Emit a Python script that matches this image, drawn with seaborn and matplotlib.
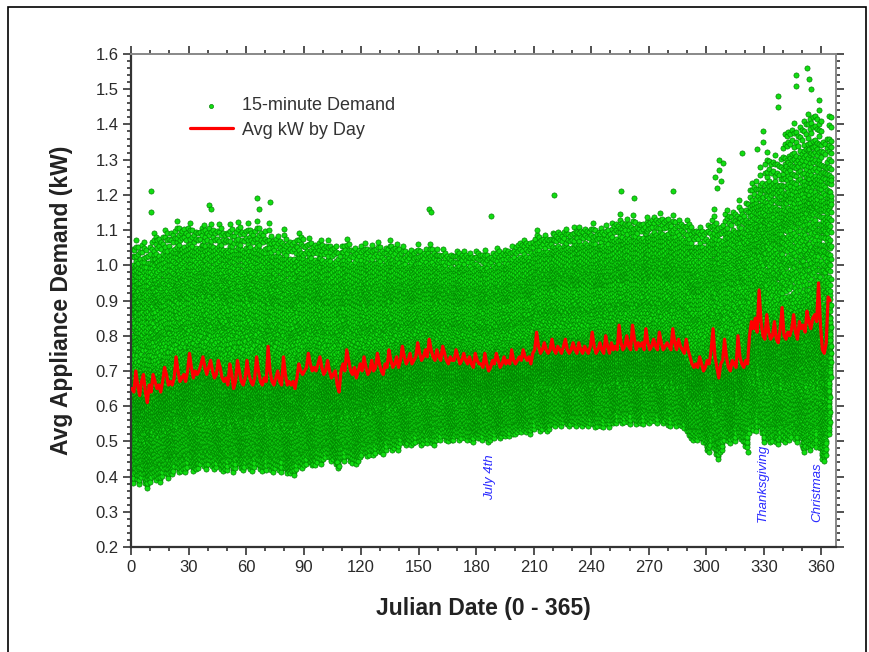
import numpy as np
import pandas as pd
import matplotlib
matplotlib.use("Agg")
import matplotlib.pyplot as plt
import seaborn as sns
from matplotlib.patches import Rectangle
from matplotlib.ticker import MultipleLocator, FormatStrFormatter

# Avg kW by day (day 0 .. 364), one week per row
avg_kw_by_day = [
    0.65, 0.64, 0.70, 0.66, 0.63, 0.67, 0.69,
    0.64, 0.61, 0.66, 0.64, 0.69, 0.67, 0.65,
    0.66, 0.64, 0.67, 0.71, 0.69, 0.66, 0.67,
    0.66, 0.68, 0.74, 0.70, 0.67, 0.68, 0.69,
    0.67, 0.70, 0.75, 0.71, 0.68, 0.70, 0.69,
    0.70, 0.72, 0.74, 0.71, 0.69, 0.71, 0.73,
    0.70, 0.68, 0.69, 0.73, 0.71, 0.68, 0.67,
    0.68, 0.66, 0.72, 0.69, 0.65, 0.67, 0.73,
    0.70, 0.67, 0.66, 0.68, 0.73, 0.69, 0.67,
    0.66, 0.68, 0.74, 0.70, 0.67, 0.66, 0.68,
    0.67, 0.77, 0.70, 0.67, 0.66, 0.68, 0.70,
    0.67, 0.66, 0.74, 0.69, 0.66, 0.67, 0.66,
    0.67, 0.65, 0.68, 0.72, 0.70, 0.69, 0.70,
    0.71, 0.75, 0.72, 0.70, 0.71, 0.70, 0.72,
    0.74, 0.71, 0.69, 0.70, 0.73, 0.70, 0.68,
    0.69, 0.70, 0.66, 0.64, 0.70, 0.72, 0.70,
    0.76, 0.73, 0.70, 0.69, 0.71, 0.68, 0.70,
    0.72, 0.70, 0.74, 0.71, 0.69, 0.70, 0.73,
    0.70, 0.71, 0.75, 0.72, 0.70, 0.69, 0.72,
    0.71, 0.76, 0.73, 0.71, 0.72, 0.74, 0.71,
    0.73, 0.77, 0.74, 0.72, 0.73, 0.75, 0.72,
    0.73, 0.74, 0.78, 0.75, 0.73, 0.74, 0.76,
    0.74, 0.79, 0.76, 0.74, 0.73, 0.76, 0.74,
    0.73, 0.77, 0.75, 0.73, 0.72, 0.74, 0.73,
    0.73, 0.76, 0.74, 0.72, 0.73, 0.75, 0.73,
    0.72, 0.74, 0.72, 0.71, 0.75, 0.73, 0.72,
    0.72, 0.71, 0.75, 0.72, 0.70, 0.71, 0.73,
    0.72, 0.75, 0.73, 0.71, 0.72, 0.74, 0.72,
    0.73, 0.72, 0.76, 0.73, 0.72, 0.73, 0.74,
    0.73, 0.76, 0.74, 0.73, 0.74, 0.72, 0.75,
    0.76, 0.81, 0.77, 0.75, 0.76, 0.78, 0.76,
    0.75, 0.76, 0.79, 0.76, 0.75, 0.77, 0.76,
    0.75, 0.77, 0.79, 0.76, 0.75, 0.76, 0.78,
    0.76, 0.75, 0.78, 0.76, 0.75, 0.77, 0.76,
    0.75, 0.77, 0.81, 0.77, 0.75, 0.76, 0.78,
    0.76, 0.75, 0.80, 0.77, 0.75, 0.78, 0.76,
    0.77, 0.76, 0.83, 0.78, 0.76, 0.77, 0.80,
    0.77, 0.76, 0.83, 0.79, 0.76, 0.78, 0.77,
    0.78, 0.76, 0.82, 0.78, 0.76, 0.77, 0.79,
    0.77, 0.76, 0.81, 0.78, 0.76, 0.77, 0.78,
    0.77, 0.76, 0.82, 0.78, 0.76, 0.79, 0.77,
    0.76, 0.75, 0.79, 0.76, 0.74, 0.72, 0.71,
    0.72, 0.71, 0.74, 0.72, 0.70, 0.71, 0.73,
    0.72, 0.76, 0.82, 0.74, 0.71, 0.68, 0.72,
    0.73, 0.79, 0.74, 0.71, 0.70, 0.73, 0.72,
    0.71, 0.80, 0.74, 0.72, 0.71, 0.73, 0.72,
    0.80, 0.84, 0.82, 0.85, 0.81, 0.93, 0.84,
    0.80, 0.79, 0.86, 0.81, 0.79, 0.80, 0.84,
    0.79, 0.78, 0.82, 0.88, 0.80, 0.79, 0.81,
    0.80, 0.82, 0.86, 0.81, 0.79, 0.84, 0.82,
    0.83, 0.81, 0.87, 0.84, 0.82, 0.85, 0.86,
    0.84, 0.95, 0.83, 0.76, 0.75, 0.78, 0.91,
    0.90,
]

# lower / upper edge of the 15-minute cloud, per 10-day block
cloud_low = [0.39, 0.40, 0.42, 0.43, 0.43, 0.43, 0.43, 0.43, 0.42, 0.44,
             0.45, 0.45, 0.47, 0.48, 0.50, 0.50, 0.51, 0.51, 0.51, 0.52,
             0.53, 0.54, 0.55, 0.55, 0.55, 0.56, 0.56, 0.56, 0.55, 0.51,
             0.48, 0.51, 0.53, 0.51, 0.51, 0.49, 0.48]
cloud_high = [1.05, 1.08, 1.10, 1.10, 1.10, 1.10, 1.10, 1.08, 1.07, 1.06,
              1.05, 1.05, 1.05, 1.05, 1.04, 1.04, 1.03, 1.03, 1.03, 1.04,
              1.06, 1.08, 1.09, 1.10, 1.10, 1.12, 1.12, 1.13, 1.12, 1.10,
              1.12, 1.15, 1.22, 1.30, 1.38, 1.42, 1.38]

# typical daily load shape, 96 quarter hours (-1 = cloud bottom, 1 = cloud top)
day_shape = [
    -0.55, -0.62, -0.70, -0.58, -0.80, -0.66, -0.92, -0.74, -0.85, -0.60, -0.97, -0.78,
    -0.68, -0.88, -1.00, -0.72, -0.83, -0.64, -0.95, -0.76, -0.57, -0.90, -0.69, -0.81,
    -0.50, -0.35, -0.44, -0.20, -0.05, -0.28, 0.10, -0.12, 0.22, -0.02, 0.05, -0.18,
    -0.30, -0.08, -0.38, -0.15, -0.25, -0.42, -0.10, -0.33, -0.22, -0.46, -0.14, -0.27,
    -0.06, -0.36, -0.19, 0.02, -0.24, -0.48, -0.11, -0.31, 0.08, -0.16, -0.40, -0.03,
    0.15, -0.21, 0.30, 0.04, 0.38, 0.12, 0.45, 0.25, 0.55, 0.34, 0.62, 0.48,
    0.70, 0.58, 0.85, 0.66, 0.95, 0.78, 1.00, 0.74, 0.88, 0.60, 0.82, 0.52,
    0.68, 0.42, 0.56, 0.28, 0.35, 0.18, 0.05, -0.10, -0.26, -0.40, -0.32, -0.52,
]

# isolated spikes standing out of the cloud
spike_day = [10, 10, 40, 41, 65, 66, 72, 107, 108, 155, 156, 187, 220, 255, 262,
             282, 304, 305, 306, 306, 307, 308, 318, 321, 326, 329, 329, 337, 337,
             346, 346, 352, 353, 354]
spike_kw = [1.21, 1.15, 1.17, 1.16, 1.19, 1.16, 1.18, 0.44, 0.43, 1.16, 1.15, 1.14, 1.20,
            1.21, 1.19, 1.21, 1.25, 1.22, 1.30, 1.27, 1.24, 1.29, 1.32, 0.47, 1.33, 1.38,
            1.35, 1.48, 1.45, 1.54, 1.51, 1.56, 1.53, 1.50]

x_ticks = list(range(0, 361, 30))
annotations = [("July 4th", 187, 0.334), ("Thanksgiving", 329.5, 0.27), ("Christmas", 357.8, 0.27)]

# build the 15-minute table: each day's shape follows half of that day's
# departure from its 10-day block, with the block's spread
days = np.arange(len(avg_kw_by_day))
avg = np.array(avg_kw_by_day)
block_mean = [avg[b * 10:(b + 1) * 10].mean() for b in range(len(cloud_low))]
rows = []
for d in days:
    b = d // 10
    m = block_mean[b]
    c = m + 0.5 * (avg[d] - m)
    down = m - cloud_low[b]
    up = cloud_high[b] - m
    for q, s in enumerate(day_shape):
        v = c + s * down if s < 0 else c + s * up
        rows.append((d + q / 96.0, v))
for d, v in zip(spike_day, spike_kw):
    rows.append((d + 0.5, v))
quarter = pd.DataFrame(rows, columns=["day", "kw"])
daily = pd.DataFrame({"day": days + 0.5, "kw": avg_kw_by_day})

sns.set_style("ticks")
plt.rcParams["font.family"] = ["Liberation Sans", "DejaVu Sans"]

fig = plt.figure(figsize=(8.7, 6.52), dpi=100)
ax = fig.add_axes([131 / 870, 1 - 547 / 652, 705 / 870, 493 / 652])

sns.scatterplot(data=quarter, x="day", y="kw", ax=ax, s=14, color="#11dd11",
                edgecolor="#007a00", linewidth=0.45, label="15-minute Demand", zorder=2)
sns.lineplot(data=daily, x="day", y="kw", ax=ax, color="#ff0000", linewidth=2.3,
             label="Avg kW by Day", zorder=3)

ax.set_xlim(0, 367.6)
ax.set_ylim(0.2, 1.6)
ax.set_xticks(x_ticks)
ax.xaxis.set_minor_locator(MultipleLocator(10))
ax.yaxis.set_major_locator(MultipleLocator(0.1))
ax.yaxis.set_minor_locator(MultipleLocator(0.02))
ax.yaxis.set_major_formatter(FormatStrFormatter("%.1f"))
ax.tick_params(which="both", direction="out", top=True, right=True, colors="#333333",
               labelcolor="#2a2a2a", labelsize=12, width=1.2)
ax.tick_params(which="major", length=6, pad=3)
ax.tick_params(which="minor", length=3)
for side in ["left", "bottom"]:
    ax.spines[side].set_color("#333333")
    ax.spines[side].set_linewidth(1.6)
for side in ["top", "right"]:
    ax.spines[side].set_color("#888888")
    ax.spines[side].set_linewidth(1.4)

ax.set_xlabel("Julian Date (0 - 365)", fontsize=16.5, fontweight="bold", color="#222222", labelpad=16)
ax.set_ylabel("Avg Appliance Demand (kW)", fontsize=16.5, fontweight="bold", color="#222222", labelpad=16)

for txt, x, y in annotations:
    ax.text(x, y, txt, rotation=90, ha="center", va="bottom", color="#2a2aff",
            fontsize=9.5, fontstyle="italic", zorder=4)

leg = ax.legend(loc="upper left", bbox_to_anchor=(0.083, 0.912), frameon=False, fontsize=13,
                handlelength=2.4, handletextpad=0.5, labelspacing=0.4, borderpad=0,
                borderaxespad=0, markerscale=0.8)
for t in leg.get_texts():
    t.set_color("#333333")

fig.patches.append(Rectangle((8 / 870, -0.02), 858 / 870, 1.02 - 7 / 652,
                             transform=fig.transFigure, fill=False, edgecolor="black",
                             linewidth=1.2, zorder=10))

fig.savefig("out.png", dpi=100)
